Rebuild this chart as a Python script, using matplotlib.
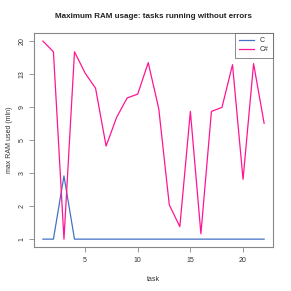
import numpy as np
import matplotlib
matplotlib.use("Agg")
import matplotlib.pyplot as plt

tasks = list(range(1, 23))
c_vals = [1, 1, 2.9, 1, 1, 1, 1, 1, 1, 1, 1, 1, 1, 1, 1, 1, 1, 1, 1, 1, 1, 1]
csharp_vals = [20, 17.4, 1, 17.4, 13.2, 11.1, 4.56, 7.5, 9.97, 10.4, 15.1, 8.74,
               2.03, 1.30, 8.34, 1.12, 8.34, 8.95, 14.7, 2.78, 14.9, 6.75]
y_ticks = [1, 2, 3, 5, 9, 13, 20]
x_ticks = [5, 10, 15, 20]

logt = np.log(y_ticks)
pos = np.arange(len(y_ticks), dtype=float)

def fwd(v):
    v = np.asarray(v, dtype=float)
    lv = np.log(np.clip(v, 1e-6, None))
    out = np.interp(lv, logt, pos)
    lo = lv < logt[0]
    hi = lv > logt[-1]
    out = np.where(lo, (lv - logt[0]) / (logt[1] - logt[0]), out)
    out = np.where(hi, pos[-1] + (lv - logt[-1]) / (logt[-1] - logt[-2]), out)
    return out

def inv(p):
    p = np.asarray(p, dtype=float)
    out = np.interp(p, pos, logt)
    lo = p < 0
    hi = p > pos[-1]
    out = np.where(lo, logt[0] + p * (logt[1] - logt[0]), out)
    out = np.where(hi, logt[-1] + (p - pos[-1]) * (logt[-1] - logt[-2]), out)
    return np.exp(out)

plt.rcParams['font.family'] = ['Liberation Sans', 'DejaVu Sans']

fig = plt.figure(figsize=(2.91, 2.91), dpi=100)
ax = fig.add_axes([0.117, 0.151, 0.821, 0.735])
ax.set_yscale('function', functions=(fwd, inv))

ax.plot(tasks, c_vals, color='#4472C4', lw=0.9, label='C')
ax.plot(tasks, csharp_vals, color='#FF1493', lw=0.9, label='C#')

ax.set_xlim(1 - 21 * 0.04, 22 + 21 * 0.04)
ylo = inv(-6 * 0.04)
yhi = inv(6 + 6 * 0.04)
ax.set_ylim(float(ylo), float(yhi))
ax.set_xticks(x_ticks)
ax.set_xticklabels([str(t) for t in x_ticks])
ax.set_yticks(y_ticks)
ax.set_yticklabels([str(t) for t in y_ticks], rotation=90, va='center')
ax.minorticks_off()

for s in ax.spines.values():
    s.set_color('#888888')
    s.set_linewidth(0.8)
ax.tick_params(axis='both', colors='#888888', labelcolor='#333333', labelsize=5,
               length=3.5, width=0.6)
ax.tick_params(axis='x', pad=4)
ax.tick_params(axis='y', pad=2.5)

ax.set_xlabel('task', fontsize=5, color='#333333', labelpad=8)
ax.set_ylabel('max RAM used (mln)', fontsize=5, color='#333333', labelpad=4)
ax.set_title('Maximum RAM usage: tasks running without errors', fontsize=5.8,
             fontweight='bold', color='#222222', pad=11)

leg = ax.legend(loc='upper right', fontsize=5, frameon=True, fancybox=False,
                borderaxespad=0, handlelength=2.2, handletextpad=0.8,
                labelspacing=0.3, borderpad=0.6)
leg.get_frame().set_edgecolor('#555555')
leg.get_frame().set_linewidth(0.6)
for t in leg.get_texts():
    t.set_color('#333333')

fig.savefig('out.png', dpi=100)
